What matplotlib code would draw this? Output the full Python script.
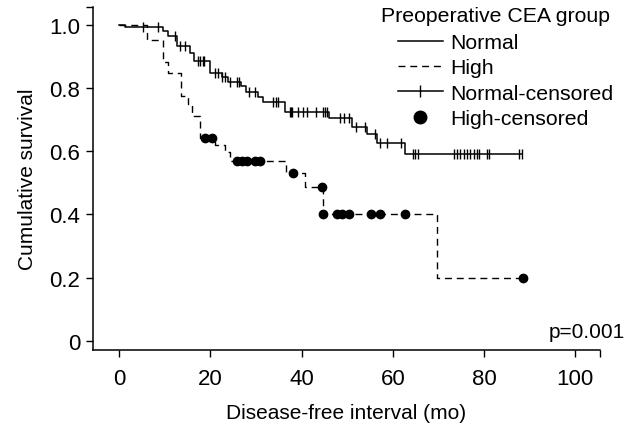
import numpy as np
import matplotlib
matplotlib.use("Agg")
import matplotlib.pyplot as plt
from matplotlib.lines import Line2D

plt.rcParams['font.family'] = ['Liberation Sans', 'DejaVu Sans']

# Kaplan-Meier steps: (drop time, survival after drop)
normal_t = [1.3, 9.7, 10.8, 12.7, 15.6, 16.5, 20.0, 22.5, 23.9, 26.8, 27.8,
            30.5, 31.5, 36.4, 46.1, 51.0, 54.3, 56.5, 62.7]
normal_s = [0.992, 0.982, 0.966, 0.934, 0.910, 0.886, 0.848, 0.835, 0.818, 0.808, 0.787,
            0.772, 0.755, 0.724, 0.705, 0.678, 0.655, 0.625, 0.592]
normal_cens = [5.3, 8.6, 12.3, 13.4, 14.5, 17.4, 17.8, 18.3, 18.7, 21.0, 21.7, 22.6,
               23.3, 24.3, 25.8, 26.2, 28.4, 29.8, 33.8, 34.4, 34.9, 37.4, 37.7, 38.0,
               39.3, 40.3, 41.2, 43.2, 44.7, 45.2, 45.5, 48.5, 49.2, 50.3, 52.0, 54.0,
               56.1, 57.2, 58.7, 61.8, 64.4, 64.9, 65.6, 73.3, 74.0, 74.8, 75.7, 76.2,
               76.9, 77.7, 78.4, 78.8, 80.6, 81.0, 87.6, 88.3]

high_t = [6.1, 9.6, 10.7, 13.5, 15.2, 15.9, 17.8, 21.0, 23.2, 24.3, 36.6, 40.8, 44.7, 69.6]
high_s = [0.953, 0.883, 0.848, 0.776, 0.750, 0.712, 0.641, 0.621, 0.597, 0.570, 0.532,
          0.488, 0.400, 0.200]
high_cens = [18.9, 20.3, 25.8, 26.9, 28.1, 29.8, 30.9, 38.1, 44.5, 44.8, 47.7, 48.8,
             50.5, 55.2, 57.2, 62.7, 88.5]


def km_xy(times, surv, end):
    x = np.r_[0, times, end]
    y = np.r_[1.0, surv, surv[-1]]
    return x, y


def level_at(times, surv, t):
    idx = np.searchsorted(times, t, side='right')
    levels = np.r_[1.0, surv]
    return levels[idx]


fig = plt.figure(figsize=(6.32, 4.35), dpi=100)
ax = fig.add_axes([93 / 632, 1 - 351 / 435, 507 / 632, 343 / 435])

xn, yn = km_xy(normal_t, normal_s, normal_cens[-1])
xh, yh = km_xy(high_t, high_s, high_cens[-1])

ax.step(xn, yn, where='post', color='black', lw=1.1)
ax.step(xh, yh, where='post', color='black', lw=1.0, ls=(0, (5, 3.5)))

ax.plot(normal_cens, level_at(np.array(normal_t), normal_s, normal_cens),
        ls='none', marker='|', ms=7, mew=1.0, color='black')
ax.plot(high_cens, level_at(np.array(high_t), high_s, high_cens),
        ls='none', marker='o', ms=6, color='black')

ax.set_xlim(-5.7, 105.4)
ax.set_ylim(-0.0295, 1.0568)
ax.set_xticks([0, 20, 40, 60, 80, 100])
ax.set_yticks([0, 0.2, 0.4, 0.6, 0.8, 1.0])
ax.set_yticklabels(['0', '0.2', '0.4', '0.6', '0.8', '1.0'])
ax.set_xticks([105.4], minor=True)
ax.set_yticks([1.0568], minor=True)
ax.tick_params(which='both', direction='out', length=5, width=1, labelsize=16)
ax.tick_params(axis='x', pad=8)
ax.tick_params(axis='y', pad=4)
for s in ['top', 'right']:
    ax.spines[s].set_visible(False)
for s in ['left', 'bottom']:
    ax.spines[s].set_linewidth(1.1)

ax.set_xlabel('Disease-free interval (mo)', fontsize=15, labelpad=10)
ax.set_ylabel('Cumulative survival', fontsize=15, labelpad=9)

fig.text(625 / 632, 1 - 333 / 435, 'p=0.001', ha='right', va='center', fontsize=15)

handles = [
    Line2D([], [], color='black', lw=1.1),
    Line2D([], [], color='black', lw=1.0, ls=(0, (5, 3.5))),
    Line2D([], [], color='black', lw=1.1, marker='|', ms=9, mew=1.0),
    Line2D([], [], color='black', ls='none', marker='o', ms=9),
]
labels = ['Normal', 'High', 'Normal-censored', 'High-censored']
fig.text(381 / 632, 1 - 17 / 435, 'Preoperative CEA group', fontsize=15.3,
         ha='left', va='center')
fig.legend(handles, labels, loc='upper left', bbox_to_anchor=(398 / 632, 1 - 34 / 435),
           frameon=False, fontsize=15.3, handlelength=2.1, handletextpad=0.35,
           labelspacing=0.3, borderpad=0, borderaxespad=0, numpoints=1)

fig.savefig('out.png', dpi=100)
